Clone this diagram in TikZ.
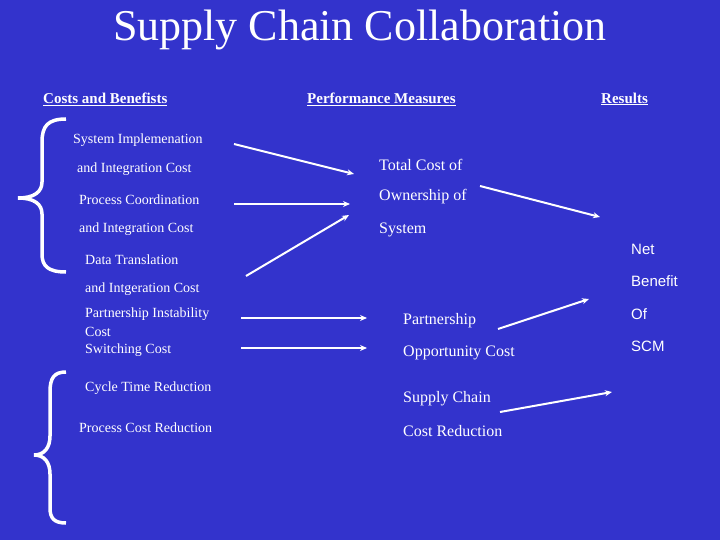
\documentclass[tikz,border=0pt]{standalone}
\usetikzlibrary{arrows.meta}
\usepackage{fontspec}
\setmainfont{Liberation Serif}
\newfontfamily\sansf{Liberation Sans}
\begin{document}
\begin{tikzpicture}[x=1pt,y=-1pt,
  txt/.style={anchor=west,text=white,inner sep=0pt,font=\fontsize{14}{14}\selectfont},
  mid/.style={anchor=west,text=white,inner sep=0pt,font=\fontsize{16}{16}\selectfont},
  res/.style={anchor=west,text=white,inner sep=0pt,font=\sansf\fontsize{15}{15}\selectfont},
  hdr/.style={anchor=west,text=white,inner sep=0pt,font=\bfseries\fontsize{15}{15}\selectfont},
  arr/.style={draw=white,line width=2pt,-{Stealth[length=7pt,width=6pt]}},
  brace/.style={draw=white,line width=3.5pt}]
\fill[fill={rgb,255:red,51;green,51;blue,204}] (0,0) rectangle (720,540);
\useasboundingbox (0,0) rectangle (720,540);
\node[text=white,font=\fontsize{44}{44}\selectfont] (title) at (360,30) {Supply Chain Collaboration};
\node[hdr] (h1) at (43,99) {\underline{Costs and Benefists}};
\node[hdr] (h2) at (307,99) {\underline{Performance Measures}};
\node[hdr] (h3) at (601,99) {\underline{Results}};
\node[txt] (l1) at (73,140) {System Implemenation};
\node[txt] (l2) at (77,169) {and Integration Cost};
\node[txt] (l3) at (79,200) {Process Coordination};
\node[txt] (l4) at (79,229) {and Integration Cost};
\node[txt] (l5) at (85,260) {Data Translation};
\node[txt] (l6) at (85,289) {and Intgeration Cost};
\node[txt] (l7) at (85,314) {Partnership Instability};
\node[txt] (l8) at (85,332) {Cost};
\node[txt] (l9) at (85,350) {Switching Cost};
\node[txt] (l10) at (85,388) {Cycle Time Reduction};
\node[txt] (l11) at (79,428) {Process Cost Reduction};
\node[mid] (m1) at (379,165) {Total Cost of};
\node[mid] (m2) at (379,197) {Ownership of};
\node[mid] (m3) at (379,230) {System};
\node[mid] (m4) at (403,321) {Partnership};
\node[mid] (m5) at (403,353) {Opportunity Cost};
\node[mid] (m6) at (403,399) {Supply Chain};
\node[mid] (m7) at (403,431) {Cost Reduction};
\node[res] (r1) at (631,249) {Net};
\node[res] (r2) at (631,281) {Benefit};
\node[res] (r3) at (631,314) {Of};
\node[res] (r4) at (631,346) {SCM};
\coordinate (a1s) at (234,144); \coordinate (a1e) at (354,174);
\coordinate (a2s) at (234,204); \coordinate (a2e) at (350,204);
\coordinate (a3s) at (246,276); \coordinate (a3e) at (349,215);
\coordinate (a4s) at (480,186); \coordinate (a4e) at (600,217);
\coordinate (a5s) at (241,318); \coordinate (a5e) at (367,318);
\coordinate (a6s) at (241,348); \coordinate (a6e) at (367,348);
\coordinate (a7s) at (498,329); \coordinate (a7e) at (589,299);
\coordinate (a8s) at (500,412); \coordinate (a8e) at (612,392);
\foreach \i in {1,...,8} \draw[arr] (a\i s) -- (a\i e);
\draw[brace] (66,119) .. controls (48,119) and (42,126) .. (42,142) -- (42,182)
  .. controls (42,192) and (34,198) .. (18,198)
  .. controls (34,198) and (42,204) .. (42,214) -- (42,254)
  .. controls (42,266) and (48,272) .. (66,272);
\draw[brace] (66,372) .. controls (54,372) and (50,378) .. (50,392) -- (50,436)
  .. controls (50,448) and (44,455) .. (34,455)
  .. controls (44,455) and (50,462) .. (50,474) -- (50,508)
  .. controls (50,518) and (54,523) .. (66,523);
\end{tikzpicture}
\end{document}
